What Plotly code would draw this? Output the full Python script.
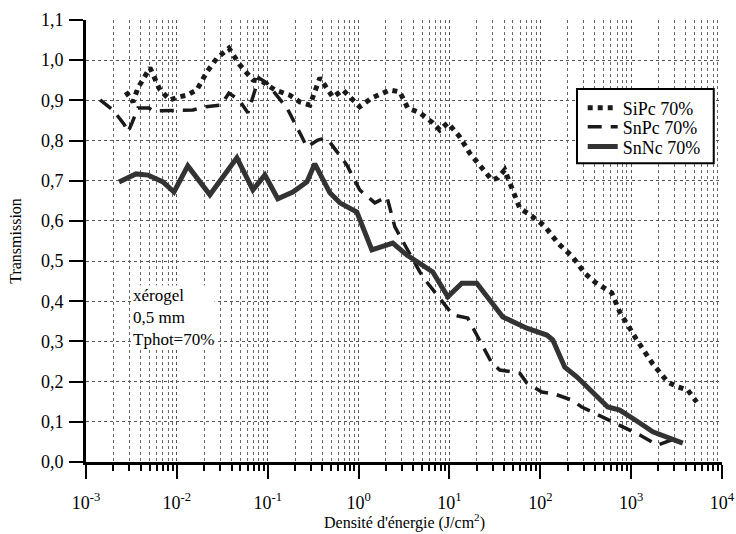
import plotly.graph_objects as go

# ---- data ----
sipc_x = [0.00275, 0.00329, 0.00373, 0.00506, 0.00652, 0.00839, 0.0103, 0.0129, 0.0166, 0.0214,
          0.0276, 0.0374, 0.0494, 0.0687, 0.0885, 0.120, 0.175, 0.226, 0.291, 0.375,
          0.521, 0.671, 1.03, 1.40, 2.21, 2.84, 3.48, 4.72, 6.56, 7.84,
          9.60, 13.0, 16.7, 24.5, 29.3, 34.1, 40.6, 48.6, 59.4, 80.5,
          112, 156, 228, 309, 398, 612, 750, 1153, 1730, 2530, 3260, 4200, 5270]
sipc_y = [0.921, 0.896, 0.931, 0.981, 0.926, 0.901, 0.908, 0.913, 0.926, 0.971,
          1.005, 1.030, 0.988, 0.951, 0.946, 0.926, 0.913, 0.896, 0.888, 0.956,
          0.908, 0.926, 0.884, 0.906, 0.926, 0.921, 0.881, 0.869, 0.844, 0.826,
          0.844, 0.809, 0.769, 0.722, 0.702, 0.707, 0.727, 0.682, 0.632, 0.612,
          0.587, 0.545, 0.510, 0.470, 0.448, 0.421, 0.373, 0.304, 0.244, 0.199, 0.187, 0.179, 0.149]

snpc_x = [0.00143, 0.00198, 0.00262, 0.00290, 0.00321, 0.00373, 0.00493, 0.00546, 0.0150, 0.0209,
          0.0305, 0.0374, 0.0482, 0.0605, 0.080, 0.098, 0.120, 0.163, 0.238, 0.270,
          0.356, 0.426, 0.483, 0.743, 1.03, 1.51, 2.05, 2.51, 4.72, 5.64,
          10.9, 15.9, 20.0, 29.3, 35.8, 59.4, 71.0, 104, 145, 222,
          286, 612, 1245, 1960, 2800]
snpc_y = [0.901, 0.876, 0.841, 0.821, 0.844, 0.881, 0.881, 0.874, 0.876, 0.884,
          0.888, 0.918, 0.901, 0.869, 0.956, 0.943, 0.918, 0.881, 0.809, 0.784,
          0.801, 0.806, 0.796, 0.739, 0.677, 0.645, 0.660, 0.585, 0.473, 0.448,
          0.366, 0.358, 0.316, 0.246, 0.229, 0.221, 0.197, 0.174, 0.169, 0.154,
          0.137, 0.100, 0.067, 0.042, 0.055]

snnc_x = [0.00231, 0.00355, 0.00481, 0.00703, 0.00929, 0.0132, 0.0231, 0.0458, 0.0687, 0.0931,
          0.129, 0.189, 0.270, 0.330, 0.483, 0.622, 0.957, 1.23, 1.40, 2.38,
          3.40, 6.56, 9.60, 13.7, 20.0, 38.7, 71.0, 118, 137, 186,
          252, 553, 750, 1245, 1730, 3700]
snnc_y = [0.697, 0.717, 0.714, 0.697, 0.672, 0.737, 0.665, 0.757, 0.677, 0.714,
          0.655, 0.672, 0.697, 0.742, 0.670, 0.645, 0.622, 0.560, 0.528, 0.545,
          0.515, 0.473, 0.411, 0.445, 0.445, 0.361, 0.333, 0.316, 0.304, 0.236,
          0.212, 0.137, 0.129, 0.097, 0.075, 0.047]

series_names = ["SiPc 70%", "SnPc 70%", "SnNc 70%"]

x_tickvals = [1e-3, 1e-2, 1e-1, 1e0, 1e1, 1e2, 1e3, 1e4]
x_ticktext = ["10<sup>-3</sup>", "10<sup>-2</sup>", "10<sup>-1</sup>", "10<sup>0</sup>",
              "10<sup>1</sup>", "10<sup>2</sup>", "10<sup>3</sup>", "10<sup>4</sup>"]
y_tickvals = [0.0, 0.1, 0.2, 0.3, 0.4, 0.5, 0.6, 0.7, 0.8, 0.9, 1.0, 1.1]
y_ticktext = ["0,0", "0,1", "0,2", "0,3", "0,4", "0,5", "0,6", "0,7", "0,8", "0,9", "1,0", "1,1"]

FONT = "'Liberation Serif', 'Times New Roman', Times, serif"

fig = go.Figure()
fig.add_trace(go.Scatter(x=sipc_x, y=sipc_y, mode="lines", name=series_names[0], legend="legend",
                         line=dict(color="#1a1a1a", width=5, dash="5px,5px")))
fig.add_trace(go.Scatter(x=snpc_x, y=snpc_y, mode="lines", name=series_names[1], legend="legend2",
                         line=dict(color="#1a1a1a", width=3.5, dash="14px,9px")))
fig.add_trace(go.Scatter(x=snnc_x, y=snnc_y, mode="lines", name=series_names[2], legend="legend3",
                         line=dict(color="#333333", width=5)))

grid_kw = dict(showgrid=True, gridcolor="#555555", gridwidth=1, griddash="dot")

fig.update_xaxes(
    type="log", range=[-3, 4], automargin=False,
    tickvals=x_tickvals, ticktext=x_ticktext,
    ticks="outside", ticklen=14, tickwidth=2, tickcolor="black",
    ticklabelstandoff=8,
    showline=True, linewidth=3, linecolor="black", mirror=False,
    zeroline=False,
    tickfont=dict(family=FONT, size=18, color="black"),
    minor=dict(dtick="D1", ticks="outside", ticklen=6, tickwidth=1.5, tickcolor="black",
               showgrid=True, gridcolor="#666666", gridwidth=1, griddash="dot"),
    **grid_kw,
)
fig.update_yaxes(
    range=[0, 1.1], automargin=False,
    tickvals=y_tickvals, ticktext=y_ticktext,
    ticks="outside", ticklen=14, tickwidth=2, tickcolor="black",
    ticklabelstandoff=2,
    showline=True, linewidth=3, linecolor="black", mirror=False,
    zeroline=False,
    tickfont=dict(family=FONT, size=18, color="black"),
    title=dict(text="Transmission", standoff=16,
               font=dict(family=FONT, size=16, color="black")),
    **grid_kw,
)

# x-axis title
fig.add_annotation(
    xref="paper", yref="paper", x=0.5, y=-0.1606, xanchor="center", yanchor="bottom",
    text="Densité d'énergie (J/cm<sup>2</sup>)", showarrow=False, borderpad=0,
    font=dict(family=FONT, size=16, color="black"),
)

# sample description
fig.add_annotation(
    xref="paper", yref="paper", x=0.072, y=0.326, xanchor="left", yanchor="middle",
    text="xérogel<br>0,5 mm<br>Tphot=70%", align="left", showarrow=False,
    bgcolor="white", borderpad=0,
    font=dict(family=FONT, size=17, color="black"),
)

# legend frame
fig.add_shape(type="rect", xref="paper", yref="paper",
              x0=0.772, x1=0.987, y0=0.676, y1=0.844,
              line=dict(color="black", width=2), fillcolor="white", layer="above")

leg_common = dict(x=0.781, xanchor="left", yanchor="middle",
                  bgcolor="rgba(0,0,0,0)", borderwidth=0,
                  font=dict(family=FONT, size=18, color="black"),
                  itemwidth=30)

fig.update_layout(
    width=736, height=534,
    margin=dict(l=86, r=14, t=20, b=72),
    paper_bgcolor="white", plot_bgcolor="white",
    font=dict(family=FONT, color="black"),
    legend=dict(y=0.801, **leg_common),
    legend2=dict(y=0.758, **leg_common),
    legend3=dict(y=0.713, **leg_common),
    showlegend=True,
)

fig.write_html("out.html")
